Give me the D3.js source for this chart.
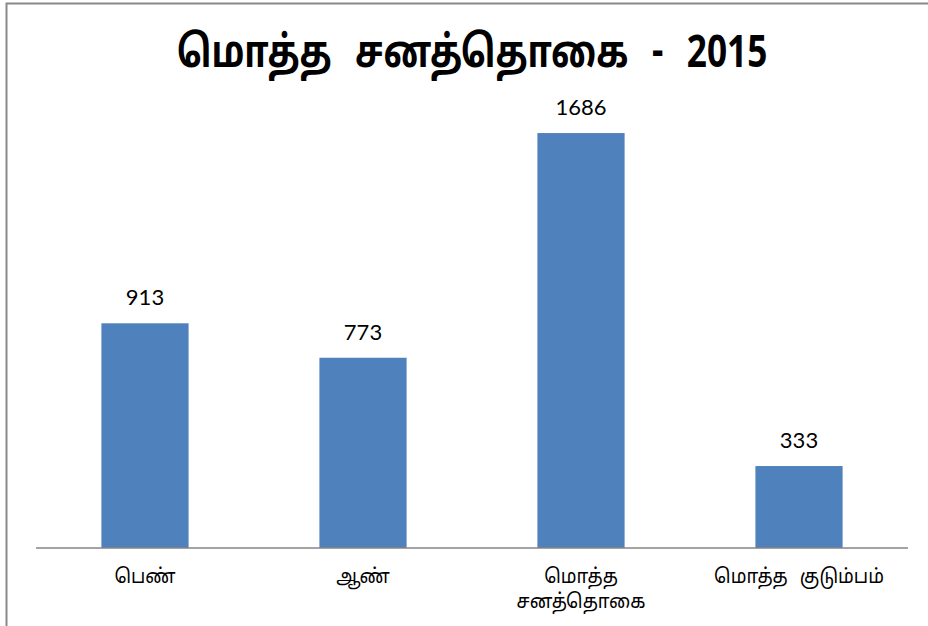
<!DOCTYPE html>
<html>
<head>
<meta charset="utf-8">
<script src="https://cdn.jsdelivr.net/npm/d3@7/dist/d3.min.js"></script>
<style>
  body { margin: 0; background: #fff; }
  svg { display: block; }
</style>
</head>
<body>
<div id="chart"></div>
<script>
// chart data
const titleText = "மொத்த சனத்தொகை - 2015"
const categories = [["பெண்"], ["ஆண்"], ["மொத்த", "சனத்தொகை"], ["மொத்த குடும்பம்"]]
const values = [913, 773, 1686, 333]
const yMax = 1800

const width = 928
const height = 626
const margin = { top: 105, right: 20, bottom: 78, left: 36 }
const tamilFont = "'Noto Sans Tamil', 'Noto Sans', 'DejaVu Sans', sans-serif"

const svg = d3.select("#chart").append("svg")
  .attr("width", width)
  .attr("height", height)

// outer chart frame (only left and top edges are in view)
svg.append("path")
  .attr("d", `M6.5,${height}V3.5H${width}`)
  .attr("fill", "none")
  .attr("stroke", "#898989")
  .attr("stroke-width", 2)

const x = d3.scaleBand()
  .domain(d3.range(values.length))
  .range([margin.left, width - margin.right])
  .paddingInner(0.6)
  .paddingOuter(0.3)

const y = d3.scaleLinear()
  .domain([0, yMax])
  .range([height - margin.bottom, margin.top])

// title, condensed like the original font
svg.append("text")
  .attr("transform", "translate(472,67) scale(0.8,1)")
  .attr("text-anchor", "middle")
  .attr("font-family", tamilFont)
  .attr("font-weight", "bold")
  .attr("font-size", 44)
  .attr("word-spacing", 18)
  .attr("fill", "#000")
  .text(titleText)

// bars
svg.append("g")
  .selectAll("rect")
  .data(values)
  .join("rect")
  .attr("x", (d, i) => x(i))
  .attr("y", d => y(d))
  .attr("width", x.bandwidth())
  .attr("height", d => y(0) - y(d))
  .attr("fill", "#4f81bd")

// value labels
svg.append("g")
  .selectAll("text")
  .data(values)
  .join("text")
  .attr("x", (d, i) => x(i) + x.bandwidth() / 2)
  .attr("y", d => y(d) - 18)
  .attr("text-anchor", "middle")
  .attr("font-family", "Lato, 'Open Sans', sans-serif")
  .attr("font-size", 22)
  .attr("fill", "#000")
  .text(d => d)

// category axis
const xAxis = d3.axisBottom(x).tickSize(0).tickFormat("")
const axisG = svg.append("g")
  .attr("transform", `translate(0,${y(0)})`)
  .call(xAxis)
axisG.select(".domain")
  .attr("stroke", "#868686")
  .attr("stroke-width", 1.5)
  .attr("d", `M${margin.left},0H${width - margin.right}`)

axisG.selectAll(".tick").each(function (d) {
  const t = d3.select(this).append("text")
    .attr("transform", "scale(0.92,1)")
    .attr("y", 35)
    .attr("text-anchor", "middle")
    .attr("font-family", tamilFont)
    .attr("font-size", 20)
    .attr("word-spacing", 8)
    .attr("fill", "#000")
  categories[d].forEach((line, k) => {
    t.append("tspan")
      .attr("x", 0)
      .attr("dy", k === 0 ? 0 : 25)
      .text(line)
  })
})
</script>
</body>
</html>
